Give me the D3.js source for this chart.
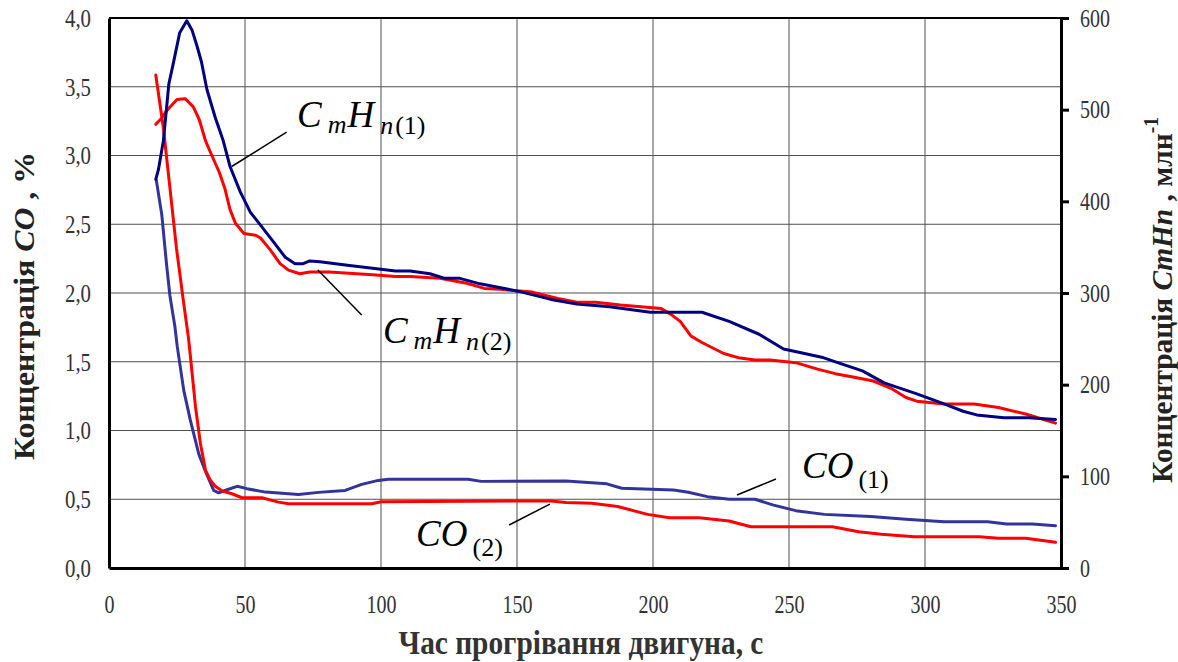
<!DOCTYPE html>
<html lang="uk">
<head>
    <meta charset="UTF-8">
    <title>CO / CmHn</title>
    <style>
        body { margin: 0; background: #fff; }
        svg text { font-family: "Liberation Serif", "DejaVu Serif", serif; }
    </style>
</head>
<body>
    <div id="wrapper"></div>

    <script src="https://d3js.org/d3.v7.min.js"></script>
    <script>
        // ---- дані ----
        // CmHn(1), млн-1
        const tCmHn1 = [17.2, 18.2, 20, 22, 23.6, 26, 28.6, 30.5, 32.3, 34, 36, 39, 42, 44.5, 48.3, 52, 55.7, 59.9, 64.8, 68.4, 71.4, 73.8, 77.5, 88.4, 96.9, 105.3, 110.7, 118, 123.5, 129, 136.4, 143.5, 150.3, 162.5, 172, 184, 199, 218, 228, 239, 248, 254, 262, 269, 277, 285, 297, 307, 314, 319, 329, 338, 348];
        const vCmHn1 = [424, 435, 466, 528, 550, 584, 597, 587, 570, 552, 522, 492, 466, 438, 410, 388, 374, 358, 339, 332, 332, 335, 334, 330, 327, 324, 324, 321, 316, 316, 310, 306, 302, 293, 288, 285, 279, 279, 269, 255, 239, 235, 230, 223, 215, 202, 190, 179, 171, 167, 164, 164, 162];
        // CmHn(2), млн-1
        const tCmHn2 = [17.2, 19.4, 21.5, 25, 28, 31, 33.2, 35.5, 37.8, 40.5, 42.6, 44.5, 46.5, 49.6, 53.9, 55.7, 59.3, 62.9, 66, 70.2, 73.8, 81, 96.9, 105.3, 110.7, 121.7, 131, 138, 143.8, 155.7, 165, 172, 179, 188, 203, 206.5, 210, 214, 218, 226, 232, 237.5, 243, 252.5, 260.5, 267, 274, 281, 287.5, 293, 297, 307, 318, 327, 337, 348];
        const vCmHn2 = [484, 491, 500, 511, 512, 503, 489, 466, 450, 432, 414, 391, 376, 365, 363, 360, 347, 332, 325, 321, 323, 323, 320, 318, 318, 316, 311, 305, 304, 301, 294, 290, 290, 287, 283, 277, 269, 253, 246, 234, 229, 227, 227, 224, 217, 212, 208, 204, 196, 186, 182, 179, 179, 175, 168, 158];
        // CO(1), %
        const tCO1 = [17.4, 19.4, 21.2, 22.4, 24.2, 25.1, 27.5, 29.9, 33, 35.5, 38.5, 40.3, 43.4, 47.1, 50.7, 57.5, 69.7, 77, 86.8, 92.9, 99, 102.7, 132, 136.9, 168, 183, 188.5, 207.5, 213, 220, 228, 237.5, 244, 252.5, 263, 280, 293, 307, 323, 330, 339.5, 348];
        const vCO1 = [2.82, 2.57, 2.2, 1.98, 1.76, 1.61, 1.29, 1.075, 0.83, 0.70, 0.564, 0.547, 0.569, 0.594, 0.577, 0.552, 0.535, 0.55, 0.564, 0.608, 0.637, 0.645, 0.645, 0.63, 0.633, 0.612, 0.58, 0.568, 0.551, 0.519, 0.5, 0.5, 0.459, 0.417, 0.39, 0.374, 0.354, 0.337, 0.337, 0.32, 0.32, 0.308];
        // CO(2), %
        const tCO2 = [17.2, 20, 22.4, 24.8, 27.3, 29.3, 31.8, 33.6, 35.5, 37.3, 39.1, 41.6, 45.2, 48.9, 56.2, 62.3, 66, 96.6, 100.2, 162.5, 168, 177.5, 187, 198, 206, 217, 228, 236, 266, 275.6, 284, 296, 320, 327, 337, 348];
        const vCO2 = [3.586, 3.2, 2.764, 2.326, 1.95, 1.66, 1.173, 0.905, 0.71, 0.637, 0.594, 0.56, 0.54, 0.511, 0.511, 0.479, 0.467, 0.467, 0.482, 0.488, 0.476, 0.471, 0.447, 0.39, 0.366, 0.366, 0.342, 0.30, 0.30, 0.264, 0.245, 0.228, 0.228, 0.216, 0.216, 0.187];

        // осі
        const xTicks = [0, 50, 100, 150, 200, 250, 300, 350];
        const yLeftTicks = [0, 0.5, 1, 1.5, 2, 2.5, 3, 3.5, 4];
        const yRightTicks = [0, 100, 200, 300, 400, 500, 600];

        const xTitle = 'Час прогрівання двигуна, с';

        // ---- полотно ----
        const svgwidth = 1178, svgheight = 662;
        const plotL = 109, plotR = 1061, plotT = 18, plotB = 568;

        const svg = d3.select('#wrapper').append('svg')
            .attr('width', svgwidth)
            .attr('height', svgheight);

        const xScale = d3.scaleLinear().domain([0, 350]).range([plotL, plotR]);
        const yLeft = d3.scaleLinear().domain([0, 4]).range([plotB, plotT]);
        const yRight = d3.scaleLinear().domain([0, 600]).range([plotB, plotT]);

        // сітка
        const grid = svg.append('g').attr('stroke', '#505050').attr('stroke-width', 1);
        grid.selectAll('.gx').data(xTicks.slice(1, -1)).join('line')
            .attr('x1', d => xScale(d)).attr('x2', d => xScale(d))
            .attr('y1', plotT).attr('y2', plotB);
        grid.selectAll('.gy').data(yLeftTicks.slice(1, -1)).join('line')
            .attr('x1', plotL).attr('x2', plotR)
            .attr('y1', d => yLeft(d)).attr('y2', d => yLeft(d));

        // лінії
        function drawLine(ts, vs, y, color) {
            const pts = ts.map((t, i) => [t, vs[i]]);
            const line = d3.line()
                .x(d => xScale(d[0]))
                .y(d => y(d[1]))
                .curve(d3.curveLinear);
            svg.append('path').attr('d', line(pts))
                .attr('fill', 'none')
                .attr('stroke', color)
                .attr('stroke-width', 3)
                .attr('stroke-linejoin', 'round')
                .attr('stroke-linecap', 'round');
        }
        drawLine(tCO1, vCO1, yLeft, '#33339c');
        drawLine(tCO2, vCO2, yLeft, '#ff0000');
        drawLine(tCmHn2, vCmHn2, yRight, '#ff0000');
        drawLine(tCmHn1, vCmHn1, yRight, '#000080');

        // рамка та осі
        svg.append('line').attr('x1', plotL).attr('x2', plotR).attr('y1', plotT).attr('y2', plotT)
            .attr('stroke', '#000').attr('stroke-width', 2);

        const tickLen = s => s.replace(/[^0-9]/g, '').length * 10 + (s.includes(',') ? 6 : 0);
        const fmt = d => d.toFixed(1).replace('.', ',');

        function styleAxis(g) {
            g.select('.domain').attr('stroke', '#000').attr('stroke-width', 3);
            g.selectAll('.tick line').attr('stroke', '#000').attr('stroke-width', 3);
            g.selectAll('.tick text')
                .attr('font-family', '"Liberation Serif", serif')
                .attr('font-size', 26)
                .attr('fill', '#333')
                .attr('lengthAdjust', 'spacingAndGlyphs')
                .attr('textLength', function () { return tickLen(this.textContent); });
        }

        svg.append('g').attr('transform', `translate(0,${plotB})`)
            .call(d3.axisBottom(xScale).tickValues(xTicks).tickSize(0).tickPadding(27).tickFormat(d3.format('d')))
            .call(styleAxis);

        svg.append('g').attr('transform', `translate(${plotL},0)`)
            .call(d3.axisLeft(yLeft).tickValues(yLeftTicks).tickSize(0).tickPadding(18).tickFormat(fmt))
            .call(styleAxis);

        svg.append('g').attr('transform', `translate(${plotR},0)`)
            .call(d3.axisRight(yRight).tickValues(yRightTicks).tickSizeInner(8).tickSizeOuter(0).tickPadding(11).tickFormat(d3.format('d')))
            .call(styleAxis);

        // ---- підписи осей ----
        function fitWidth(text, target) {
            const w = text.node().getBBox().width;
            text.attr('transform', `scale(${target / w},1)`);
        }

        const xg = svg.append('g').attr('transform', 'translate(581,654)');
        const xt = xg.append('text')
            .attr('text-anchor', 'middle')
            .attr('font-weight', 'bold').attr('font-size', 33).attr('fill', '#333')
            .text(xTitle);
        fitWidth(xt, 365);

        const lg = svg.append('g').attr('transform', 'translate(23,306) rotate(-90)');
        const lt = lg.append('text').attr('text-anchor', 'middle').attr('dy', '0.35em')
            .attr('font-weight', 'bold').attr('font-size', 30).attr('fill', '#222');
        lt.append('tspan').text('Концентрація ');
        lt.append('tspan').attr('font-style', 'italic').text('CO');
        lt.append('tspan').text(' , %');
        fitWidth(lt, 308);

        const rg = svg.append('g').attr('transform', 'translate(1161,300) rotate(-90)');
        const rt = rg.append('text').attr('text-anchor', 'middle').attr('dy', '0.35em')
            .attr('font-weight', 'bold').attr('font-size', 30).attr('fill', '#222');
        rt.append('tspan').text('Концентрація ');
        rt.append('tspan').attr('font-style', 'italic').text('CmHn');
        rt.append('tspan').text(' , млн');
        rt.append('tspan').attr('font-size', 20).attr('dy', -14).text('-1');
        fitWidth(rt, 366);

        // ---- анотації ----
        const notes = [
            { main1: 'C', sub1: 'm', main2: 'H', sub2: 'n', idx: '(1)', at: [69.1, 3.207], from: [45.1, 2.92], to: [65.3, 3.17] },
            { main1: 'C', sub1: 'm', main2: 'H', sub2: 'n', idx: '(2)', at: [100.7, 1.64], from: [76.8, 2.167], to: [92.9, 1.84] },
            { main1: 'CO', idx: '(1)', at: [254.8, 0.655], from: [230.9, 0.531], to: [245.2, 0.647] },
            { main1: 'CO', idx: '(2)', at: [112.9, 0.16], from: [147.1, 0.313], to: [162.1, 0.465] }
        ];

        notes.forEach(n => {
            svg.append('line')
                .attr('x1', xScale(n.from[0])).attr('y1', yLeft(n.from[1]))
                .attr('x2', xScale(n.to[0])).attr('y2', yLeft(n.to[1]))
                .attr('stroke', '#000').attr('stroke-width', 1.5);

            const t = svg.append('text')
                .attr('x', xScale(n.at[0])).attr('y', yLeft(n.at[1]))
                .attr('font-style', 'italic').attr('font-size', 37).attr('fill', '#000');
            t.append('tspan').text(n.main1);
            if (n.sub1) {
                t.append('tspan').attr('dx', 6).attr('dy', 6).attr('font-size', 26).text(n.sub1);
                t.append('tspan').attr('dx', 1).attr('dy', -6).text(n.main2);
                t.append('tspan').attr('dx', 6).attr('dy', 7).attr('font-size', 26).text(n.sub2);
                t.append('tspan').attr('dx', 2).attr('font-style', 'normal').attr('font-size', 26).text(n.idx);
            } else {
                t.append('tspan').attr('dx', 5).attr('dy', 10).attr('font-style', 'normal').attr('font-size', 26).text(n.idx);
            }
        });
    </script>
</body>
</html>
